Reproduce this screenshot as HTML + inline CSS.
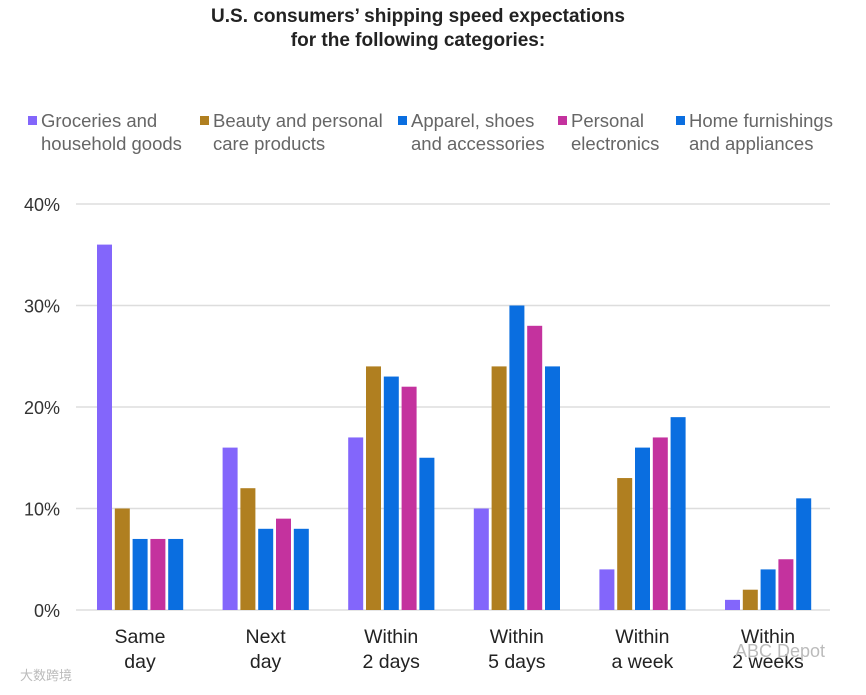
<!DOCTYPE html>
<html><head><meta charset="utf-8"><style>
body{margin:0;background:#fff;width:866px;height:690px;overflow:hidden;font-family:"Liberation Sans","Noto Sans CJK SC",sans-serif}
</style></head><body>
<svg width="866" height="690" xmlns="http://www.w3.org/2000/svg">
<text x="418" y="22" text-anchor="middle" font-size="19" font-weight="bold" fill="#222">U.S. consumers’ shipping speed expectations</text>
<text x="418" y="46" text-anchor="middle" font-size="19" font-weight="bold" fill="#222">for the following categories:</text>
<g id="legend"></g>
<g id="grid"></g>
<g id="bars"></g>
<g id="xlab"></g>
<text x="20" y="680" font-size="13" fill="#bbb">大数跨境</text>
<text x="735" y="657" font-size="18" fill="#bbb">ABC Depot</text>
</svg>
<script>
const categories=[["Same","day"],["Next","day"],["Within","2 days"],["Within","5 days"],["Within","a week"],["Within","2 weeks"]];
const seriesNames=[["Groceries and","household goods"],["Beauty and personal","care products"],["Apparel, shoes","and accessories"],["Personal","electronics"],["Home furnishings","and appliances"]];
const groceries=[36,16,17,10,4,1];
const beauty=[10,12,24,24,13,2];
const apparel=[7,8,23,30,16,4];
const electronics=[7,9,22,28,17,5];
const home=[7,8,15,24,19,11];
const yTicks=[0,10,20,30,40];
const colors=["#8366fb","#b07f20","#0a6ee0","#c4329e","#0a6ee0"];
const series=[groceries,beauty,apparel,electronics,home];
const NS="http://www.w3.org/2000/svg";
function y(v){return 610-v*10.15;}
function xc(i){return 140+i*125.6;}
function mk(tag,attrs,parent){const e=document.createElementNS(NS,tag);for(const k in attrs)e.setAttribute(k,attrs[k]);parent.appendChild(e);return e;}
const grid=document.getElementById('grid');
yTicks.forEach(t=>{
  const l=mk('line',{x1:76,x2:830,y1:y(t),y2:y(t),stroke:'#ddd','stroke-width':1.5},grid);
  
  
  const tx=mk('text',{x:60,y:y(t)+7,'text-anchor':'end','font-size':18,fill:'#333'},grid);
  tx.textContent=t+'%';
  
  
});
const bars=document.getElementById('bars');
series.forEach((s,si)=>{
  s.forEach((v,ci)=>{
    const x=xc(ci)-43+si*17.8;
    const r=mk('rect',{x:x,y:y(v),width:15,height:610-y(v),fill:colors[si]},bars);
    
    
  });
});
const xl=document.getElementById('xlab');
categories.forEach((c,i)=>{
  c.forEach((line,li)=>{
    const t=mk('text',{x:xc(i),y:643+li*25,'text-anchor':'middle','font-size':19.5,fill:'#222'},xl);
    t.textContent=line;
    
    
  });
});
const lg=document.getElementById('legend');
const lx=[28,200,398,558,676];
seriesNames.forEach((n,i)=>{
  const r=mk('rect',{x:lx[i],y:116,width:9,height:9,fill:colors[i]},lg);
  
  
  n.forEach((line,li)=>{
    const t=mk('text',{x:lx[i]+13,y:127+li*23,'font-size':18.5,fill:'#666'},lg);
    t.textContent=line;
    
    
  });
});
</script>
</body></html>
